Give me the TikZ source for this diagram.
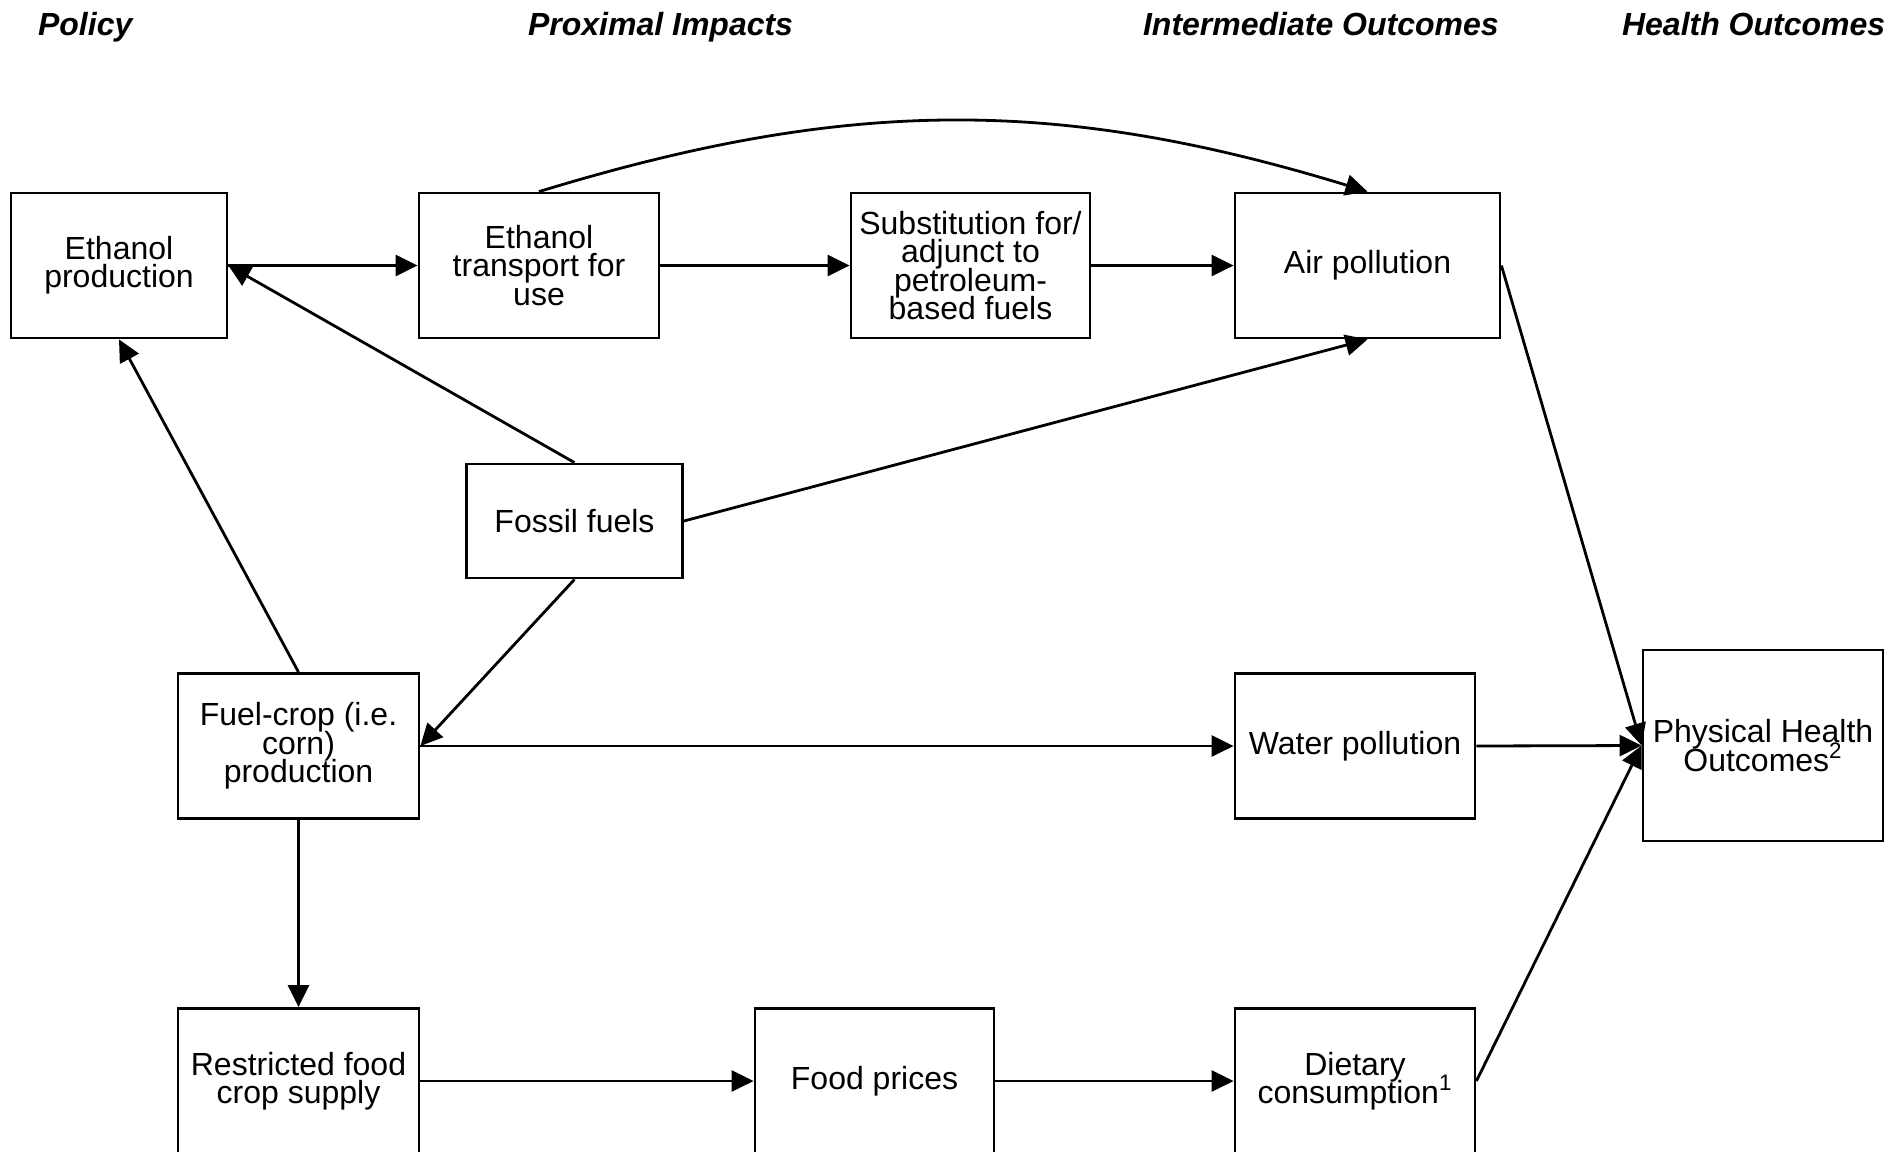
\documentclass[tikz,border=0pt]{standalone}
\usepackage{fontspec}
\setmainfont{Liberation Sans}
\usetikzlibrary{arrows.meta}
\newcommand{\boxfont}{\fontsize{16}{14.2}\selectfont\lineskiplimit=-20pt\relax}

\begin{document}
\begin{tikzpicture}[x=0.5pt, y=-0.5pt,
  box/.style={draw=black, align=center, inner sep=1pt,
    minimum width=120pt, minimum height=72.5pt, font=\boxfont},
  heading/.style={anchor=base west, font=\fontsize{16}{19}\selectfont\bfseries\itshape},
  link/.style={-{Triangle[length=11pt,width=10.5pt]}}]
\useasboundingbox (0,0) rectangle (1904,1151);
\begin{scope}[line width=1.4pt]

  % column headings
  \node[heading] (hpolicy) at (30,35) {Policy};
  \node[heading] (hproximal) at (520,35) {Proximal Impacts};
  \node[heading] (hinter) at (1135,35) {Intermediate Outcomes};
  \node[heading] (hhealth) at (1614,35) {Health Outcomes};

  % top row
  \node[box, minimum width=108pt] (ethprod) at (119,265.5) {Ethanol\\production};
  \node[box] (ethtrans) at (539,265.5) {Ethanol\\transport for\\use};
  \node[box, minimum width=119.5pt] (subst) at (970.5,265.5) {Substitution for/\\adjunct to\\petroleum-\\based fuels};
  \node[box, minimum width=132.5pt] (air) at (1367.5,265.5) {Air pollution};

  % fossil fuels
  \node[box, minimum width=108pt, minimum height=57pt] (fossil) at (574.5,521) {Fossil fuels};

  % middle row
  \node[box, minimum width=120.5pt] (fuelcrop) at (298.5,746) {Fuel-crop (i.e.\\corn)\\production};
  \node[box] (water) at (1355,746) {Water pollution};
  \node[box, minimum height=95.5pt] (health) at (1763,745.5) {Physical Health\\Outcomes\textsuperscript{2}};

  % bottom row
  \node[box, minimum width=120.5pt] (foodcrop) at (298.5,1081) {Restricted food\\crop supply};
  \node[box, minimum width=119.5pt] (prices) at (874.5,1081) {Food prices};
  \node[box] (diet) at (1355,1081) {Dietary\\consumption\textsuperscript{1}};

  % connectors
  \draw[link] (ethprod.east) -- (ethtrans.west);
  \draw[link] (ethtrans.east) -- (subst.west);
  \draw[link] (subst.east) -- (air.west);
  \draw[link] (ethtrans.north) to[bend left=17] (air.north);
  \draw[link] (fossil.north) -- (ethprod.east);
  \draw[link] (fossil.east) -- (air.south);
  \draw[link] (fossil.south) -- (fuelcrop.east);
  \draw[link] (fuelcrop.north) -- (ethprod.south);
  \draw[link] (fuelcrop.east) -- (water.west);
  \draw[link] (fuelcrop.south) -- (foodcrop.north);
  \draw[link] (foodcrop.east) -- (prices.west);
  \draw[link] (prices.east) -- (diet.west);
  \draw[link] (air.east) -- (health.west);
  \draw[link] (water.east) -- (health.west);
  \draw[link] (diet.east) -- (health.west);
\end{scope}
\end{tikzpicture}
\end{document}
